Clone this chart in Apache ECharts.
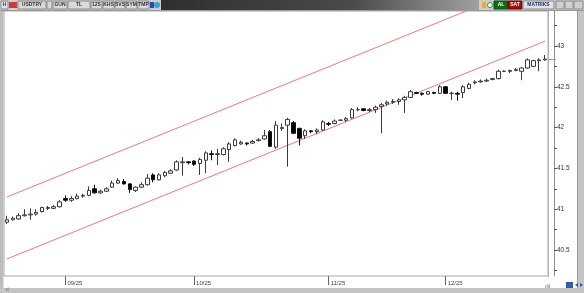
<!DOCTYPE html>
<html><head><meta charset="utf-8">
<script src="https://cdn.jsdelivr.net/npm/echarts@6/dist/echarts.min.js"></script>
<style>html,body{margin:0;padding:0;background:#fff;}#c{width:584px;height:293px;}</style>
</head><body><div id="c"></div>
<script>
// ---- data ----
const dates = [
 '2025-08-18','2025-08-19','2025-08-20','2025-08-21','2025-08-22','2025-08-25','2025-08-26','2025-08-27','2025-08-28','2025-08-29',
 '2025-09-01','2025-09-02','2025-09-03','2025-09-04','2025-09-05','2025-09-08','2025-09-09','2025-09-10','2025-09-11','2025-09-12',
 '2025-09-15','2025-09-16','2025-09-17','2025-09-18','2025-09-19','2025-09-22','2025-09-23','2025-09-24','2025-09-25','2025-09-26',
 '2025-09-29','2025-09-30',
 '2025-10-01','2025-10-02','2025-10-03','2025-10-06','2025-10-07','2025-10-08','2025-10-09','2025-10-10','2025-10-13','2025-10-14',
 '2025-10-15','2025-10-16','2025-10-17','2025-10-20','2025-10-21','2025-10-22','2025-10-23','2025-10-24','2025-10-27','2025-10-28',
 '2025-10-29','2025-10-30','2025-10-31',
 '2025-11-03','2025-11-04','2025-11-05','2025-11-06','2025-11-07','2025-11-10','2025-11-11','2025-11-12','2025-11-13','2025-11-14',
 '2025-11-17','2025-11-18','2025-11-19','2025-11-20','2025-11-21','2025-11-24','2025-11-25','2025-11-26','2025-11-27','2025-11-28',
 '2025-12-01','2025-12-02','2025-12-03','2025-12-04','2025-12-05','2025-12-08','2025-12-09','2025-12-10','2025-12-11','2025-12-12',
 '2025-12-15','2025-12-16','2025-12-17','2025-12-18','2025-12-19','2025-12-22','2025-12-23','2025-12-24'
];
const opens = [
 40.84,40.87,40.88,40.92,40.93,40.94,40.97,41.01,41.01,41.03,
 41.13,41.11,41.13,41.16,41.17,41.25,41.20,41.22,41.27,41.32,
 41.34,41.31,41.23,41.27,41.30,41.42,41.36,41.41,41.44,41.48,
 41.57,41.58,41.59,41.56,41.60,41.68,41.67,41.67,41.73,41.78,
 41.80,41.81,41.81,41.84,41.86,41.95,41.76,41.99,42.03,42.06,
 41.99,41.90,41.96,41.95,41.97,42.05,42.05,42.09,42.09,42.12,
 42.22,42.23,42.21,42.22,42.26,42.29,42.31,42.32,42.34,42.37,
 42.43,42.42,42.41,42.43,42.42,42.50,42.42,42.42,42.43,42.48,
 42.55,42.56,42.57,42.59,42.60,42.69,42.69,42.70,42.69,42.73,
 42.75,42.82,42.83
];
const closes = [
 40.87,40.89,40.92,40.93,40.94,40.96,41.02,41.02,41.03,41.09,
 41.11,41.13,41.16,41.17,41.23,41.20,41.22,41.25,41.32,41.35,
 41.31,41.24,41.27,41.30,41.38,41.36,41.42,41.45,41.47,41.58,
 41.58,41.57,41.55,41.61,41.69,41.67,41.68,41.74,41.80,41.85,
 41.82,41.80,41.83,41.85,41.90,41.77,42.03,42.00,42.10,41.93,
 41.87,41.96,41.95,41.97,42.07,42.04,42.08,42.09,42.11,42.22,
 42.22,42.21,42.22,42.25,42.28,42.31,42.32,42.34,42.37,42.44,
 42.42,42.41,42.44,42.42,42.50,42.42,42.42,42.41,42.50,42.53,
 42.56,42.57,42.58,42.60,42.69,42.69,42.70,42.71,42.73,42.83,
 42.82,42.83,42.84
];
const highs = [
 40.92,40.91,40.95,41.00,41.01,41.00,41.03,41.04,41.05,41.11,
 41.17,41.16,41.19,41.19,41.28,41.30,41.24,41.27,41.35,41.38,
 41.37,41.32,41.28,41.33,41.43,41.44,41.44,41.47,41.49,41.60,
 41.64,41.59,41.60,41.63,41.71,41.72,41.74,41.76,41.82,41.87,
 41.84,41.82,41.85,41.87,41.97,41.97,42.08,42.05,42.12,42.08,
 42.00,41.98,41.97,41.99,42.09,42.07,42.10,42.10,42.13,42.24,
 42.25,42.24,42.24,42.27,42.30,42.33,42.35,42.36,42.39,42.46,
 42.44,42.43,42.45,42.44,42.52,42.51,42.44,42.44,42.52,42.55,
 42.58,42.59,42.60,42.61,42.71,42.70,42.71,42.73,42.74,42.85,
 42.83,42.85,42.89
];
const lows = [
 40.82,40.86,40.87,40.91,40.87,40.92,40.96,40.99,41.00,41.02,
 41.09,41.09,41.12,41.14,41.16,41.19,41.19,41.21,41.26,41.31,
 41.30,41.20,41.21,41.26,41.29,41.33,41.35,41.39,41.43,41.47,
 41.41,41.55,41.53,41.42,41.44,41.60,41.54,41.66,41.58,41.77,
 41.79,41.78,41.80,41.83,41.85,41.76,41.74,41.96,41.52,41.92,
 41.78,41.86,41.93,41.92,41.96,42.02,42.04,42.08,42.07,42.11,
 42.20,42.20,42.19,42.18,41.93,42.27,42.29,42.28,42.18,42.36,
 42.41,42.39,42.40,42.41,42.41,42.41,42.34,42.33,42.36,42.47,
 42.53,42.55,42.56,42.58,42.59,42.68,42.67,42.69,42.58,42.72,
 42.74,42.69,42.82
];
const yLabelValues = [40.5, 41, 41.5, 42, 42.5, 43];
const yTickValues = [40.25, 40.5, 40.75, 41, 41.25, 41.5, 41.75, 42, 42.25, 42.5, 42.75, 43, 43.25];
const channelLower = [40.39, 43.06];   // at first and last candle
const channelUpper = [41.15, 43.82];

// ---- build ----
const ohlc = dates.map((d, i) => [opens[i], closes[i], lows[i], highs[i]]);
const isMonthStart = (i) => i > 0 && dates[i].slice(5, 7) !== dates[i - 1].slice(5, 7);
const first = dates[0], last = dates[dates.length - 1];

const chart = echarts.init(document.getElementById('c'), null, {renderer: 'canvas'});
const FONT = 'Liberation Sans, Arial, sans-serif';

function btn(x, w, label, fill, color, stroke) {
  const ch = [{type: 'rect', shape: {x: x, y: 1, width: w, height: 8}, style: {fill: fill, stroke: stroke || '#8a8a8a', lineWidth: 1}}];
  if (label) ch.push({type: 'text', style: {text: label, x: x + w / 2, y: 5, align: 'center', verticalAlign: 'middle', font: 'bold 5px ' + FONT, fill: color || '#333'}});
  return {type: 'group', children: ch};
}

const graphics = [
  // frame
  {type: 'rect', shape: {x: 0, y: 0, width: 584, height: 11}, style: {fill: '#cdcdcd'}},
  {type: 'line', shape: {x1: 0, y1: 10.5, x2: 584, y2: 10.5}, style: {stroke: '#9a9a9a', lineWidth: 1}},
  {type: 'rect', shape: {x: 0, y: 11, width: 3.5, height: 282}, style: {fill: '#bdbdbd'}},
  {type: 'rect', shape: {x: 0, y: 288, width: 584, height: 5}, style: {fill: '#c4c4c4'}},
  {type: 'rect', shape: {x: 578, y: 11, width: 6, height: 282}, style: {fill: '#c4c4c4'}},
  {type: 'line', shape: {x1: 577.5, y1: 11, x2: 577.5, y2: 288}, style: {stroke: '#999', lineWidth: 1}},
  {type: 'line', shape: {x1: 548.5, y1: 11, x2: 548.5, y2: 277}, style: {stroke: '#b5b5b5', lineWidth: 1}},
  // toolbar left
  btn(1, 7, 'H', '#e4e4ee', '#2340a0'),
  {type: 'rect', shape: {x: 9, y: 2, width: 8, height: 6}, style: {fill: '#d23a3a'}},
  btn(18, 28, 'USDTRY', '#d9d9d9', '#333'),
  btn(47, 5, '', '#d9d9d9'),
  btn(53, 14, 'GUN', '#d9d9d9'),
  btn(68, 22, 'TL', '#d9d9d9'),
  btn(91, 11, '12S', '#d9d9d9'),
  btn(103, 11, 'KHS', '#d9d9d9'),
  btn(115, 10, 'SVS', '#d9d9d9'),
  btn(126, 11, 'SYM', '#d9d9d9'),
  btn(138, 11, 'TMP', '#d9d9d9'),
  {type: 'rect', shape: {x: 150, y: 2, width: 4, height: 6}, style: {fill: '#2b4fa8'}},
  {type: 'circle', shape: {cx: 157, cy: 5, r: 3}, style: {fill: '#3aa0e0'}},
  // dark bar
  {type: 'rect', shape: {x: 161, y: 0, width: 318, height: 10},
   style: {fill: new echarts.graphic.LinearGradient(0, 0, 1, 0, [{offset: 0, color: '#2f2f2f'}, {offset: 0.6, color: '#4a4a4a'}, {offset: 1, color: '#a0a0a0'}])}},
  // toolbar right
  {type: 'rect', shape: {x: 482, y: 2, width: 4, height: 6}, style: {fill: '#e8b020'}},
  {type: 'circle', shape: {cx: 490, cy: 5, r: 2.5}, style: {fill: '#fff', stroke: '#2a9a3a', lineWidth: 1}},
  btn(494, 14, 'AL', '#0d6e12', '#fff', '#084a0b'),
  btn(508, 14, 'SAT', '#a30d0d', '#fff', '#6e0808'),
  btn(523, 31, 'MATRIKS', '#e2e2e2', '#23306e'),
  btn(556, 8, '', '#d0d0d0'),
  btn(565, 8, '', '#d0d0d0'),
  btn(574, 9, '', '#d0d0d0'),
  // bottom right icons
  {type: 'rect', shape: {x: 566, y: 282, width: 7, height: 6}, style: {fill: '#2e5db0'}},
  {type: 'polygon', shape: {points: [[575, 285], [578, 283], [578, 287]]}, style: {fill: '#2e5db0'}},
  {type: 'polygon', shape: {points: [[583, 285], [580, 283], [580, 287]]}, style: {fill: '#2e5db0'}},
  {type: 'text', style: {text: 'ılıl', x: 545, y: 289, font: '5px ' + FONT, fill: '#555', verticalAlign: 'bottom'}},
  {type: 'text', style: {text: 'ıl', x: 6, y: 292, font: '5px ' + FONT, fill: '#555', verticalAlign: 'bottom'}}
];

chart.setOption({
  animation: false,
  backgroundColor: '#ffffff',
  grid: {left: 4, right: 36, top: 11, bottom: 17, show: true, borderColor: '#a8a8a8', borderWidth: 1, backgroundColor: '#fff'},
  xAxis: {
    type: 'category', data: dates, boundaryGap: true,
    axisLine: {show: false},
    axisTick: {show: true, alignWithLabel: true, interval: (i) => isMonthStart(i), length: 9, lineStyle: {color: '#666', width: 1}},
    axisLabel: {interval: (i) => isMonthStart(i), align: 'left', margin: 4, padding: [0, 0, 0, 2],
      fontSize: 6, fontFamily: FONT, color: '#444',
      formatter: (v) => v.slice(5, 7) + '/' + v.slice(2, 4)},
    splitLine: {show: false}
  },
  yAxis: {
    type: 'value', position: 'right', offset: 6, min: 40.181, max: 43.429, scale: true,
    axisLine: {show: true, lineStyle: {color: '#8c8c8c', width: 1}},
    axisTick: {show: true, customValues: yTickValues, length: 3, lineStyle: {color: '#555'}},
    axisLabel: {customValues: yLabelValues, fontSize: 6.5, fontFamily: FONT, color: '#333', margin: 3,
      formatter: (v) => String(v)},
    splitLine: {show: false}
  },
  series: [
    {type: 'candlestick', data: ohlc, barWidth: 4,
     itemStyle: {color: '#ffffff', color0: '#000000', borderColor: '#3a3a3a', borderColor0: '#111', borderColorDoji: '#3a3a3a', borderWidth: 1}},
    {type: 'line', data: [[first, channelLower[0]], [last, channelLower[1]]], symbol: 'none', clip: true,
     lineStyle: {color: '#f07878', width: 1}, z: 1},
    {type: 'line', data: [[first, channelUpper[0]], [last, channelUpper[1]]], symbol: 'none', clip: true,
     lineStyle: {color: '#f07878', width: 1}, z: 1}
  ],
  graphic: graphics
});

// current price marker at the axis
const py = chart.convertToPixel({yAxisIndex: 0}, closes[closes.length - 1]);
graphics.push({type: 'line', shape: {x1: 549, y1: Math.round(py) + 0.5, x2: 556, y2: Math.round(py) + 0.5}, style: {stroke: '#33c8d8', lineWidth: 1}, z: 50});
chart.setOption({graphic: graphics});
</script></body></html>
